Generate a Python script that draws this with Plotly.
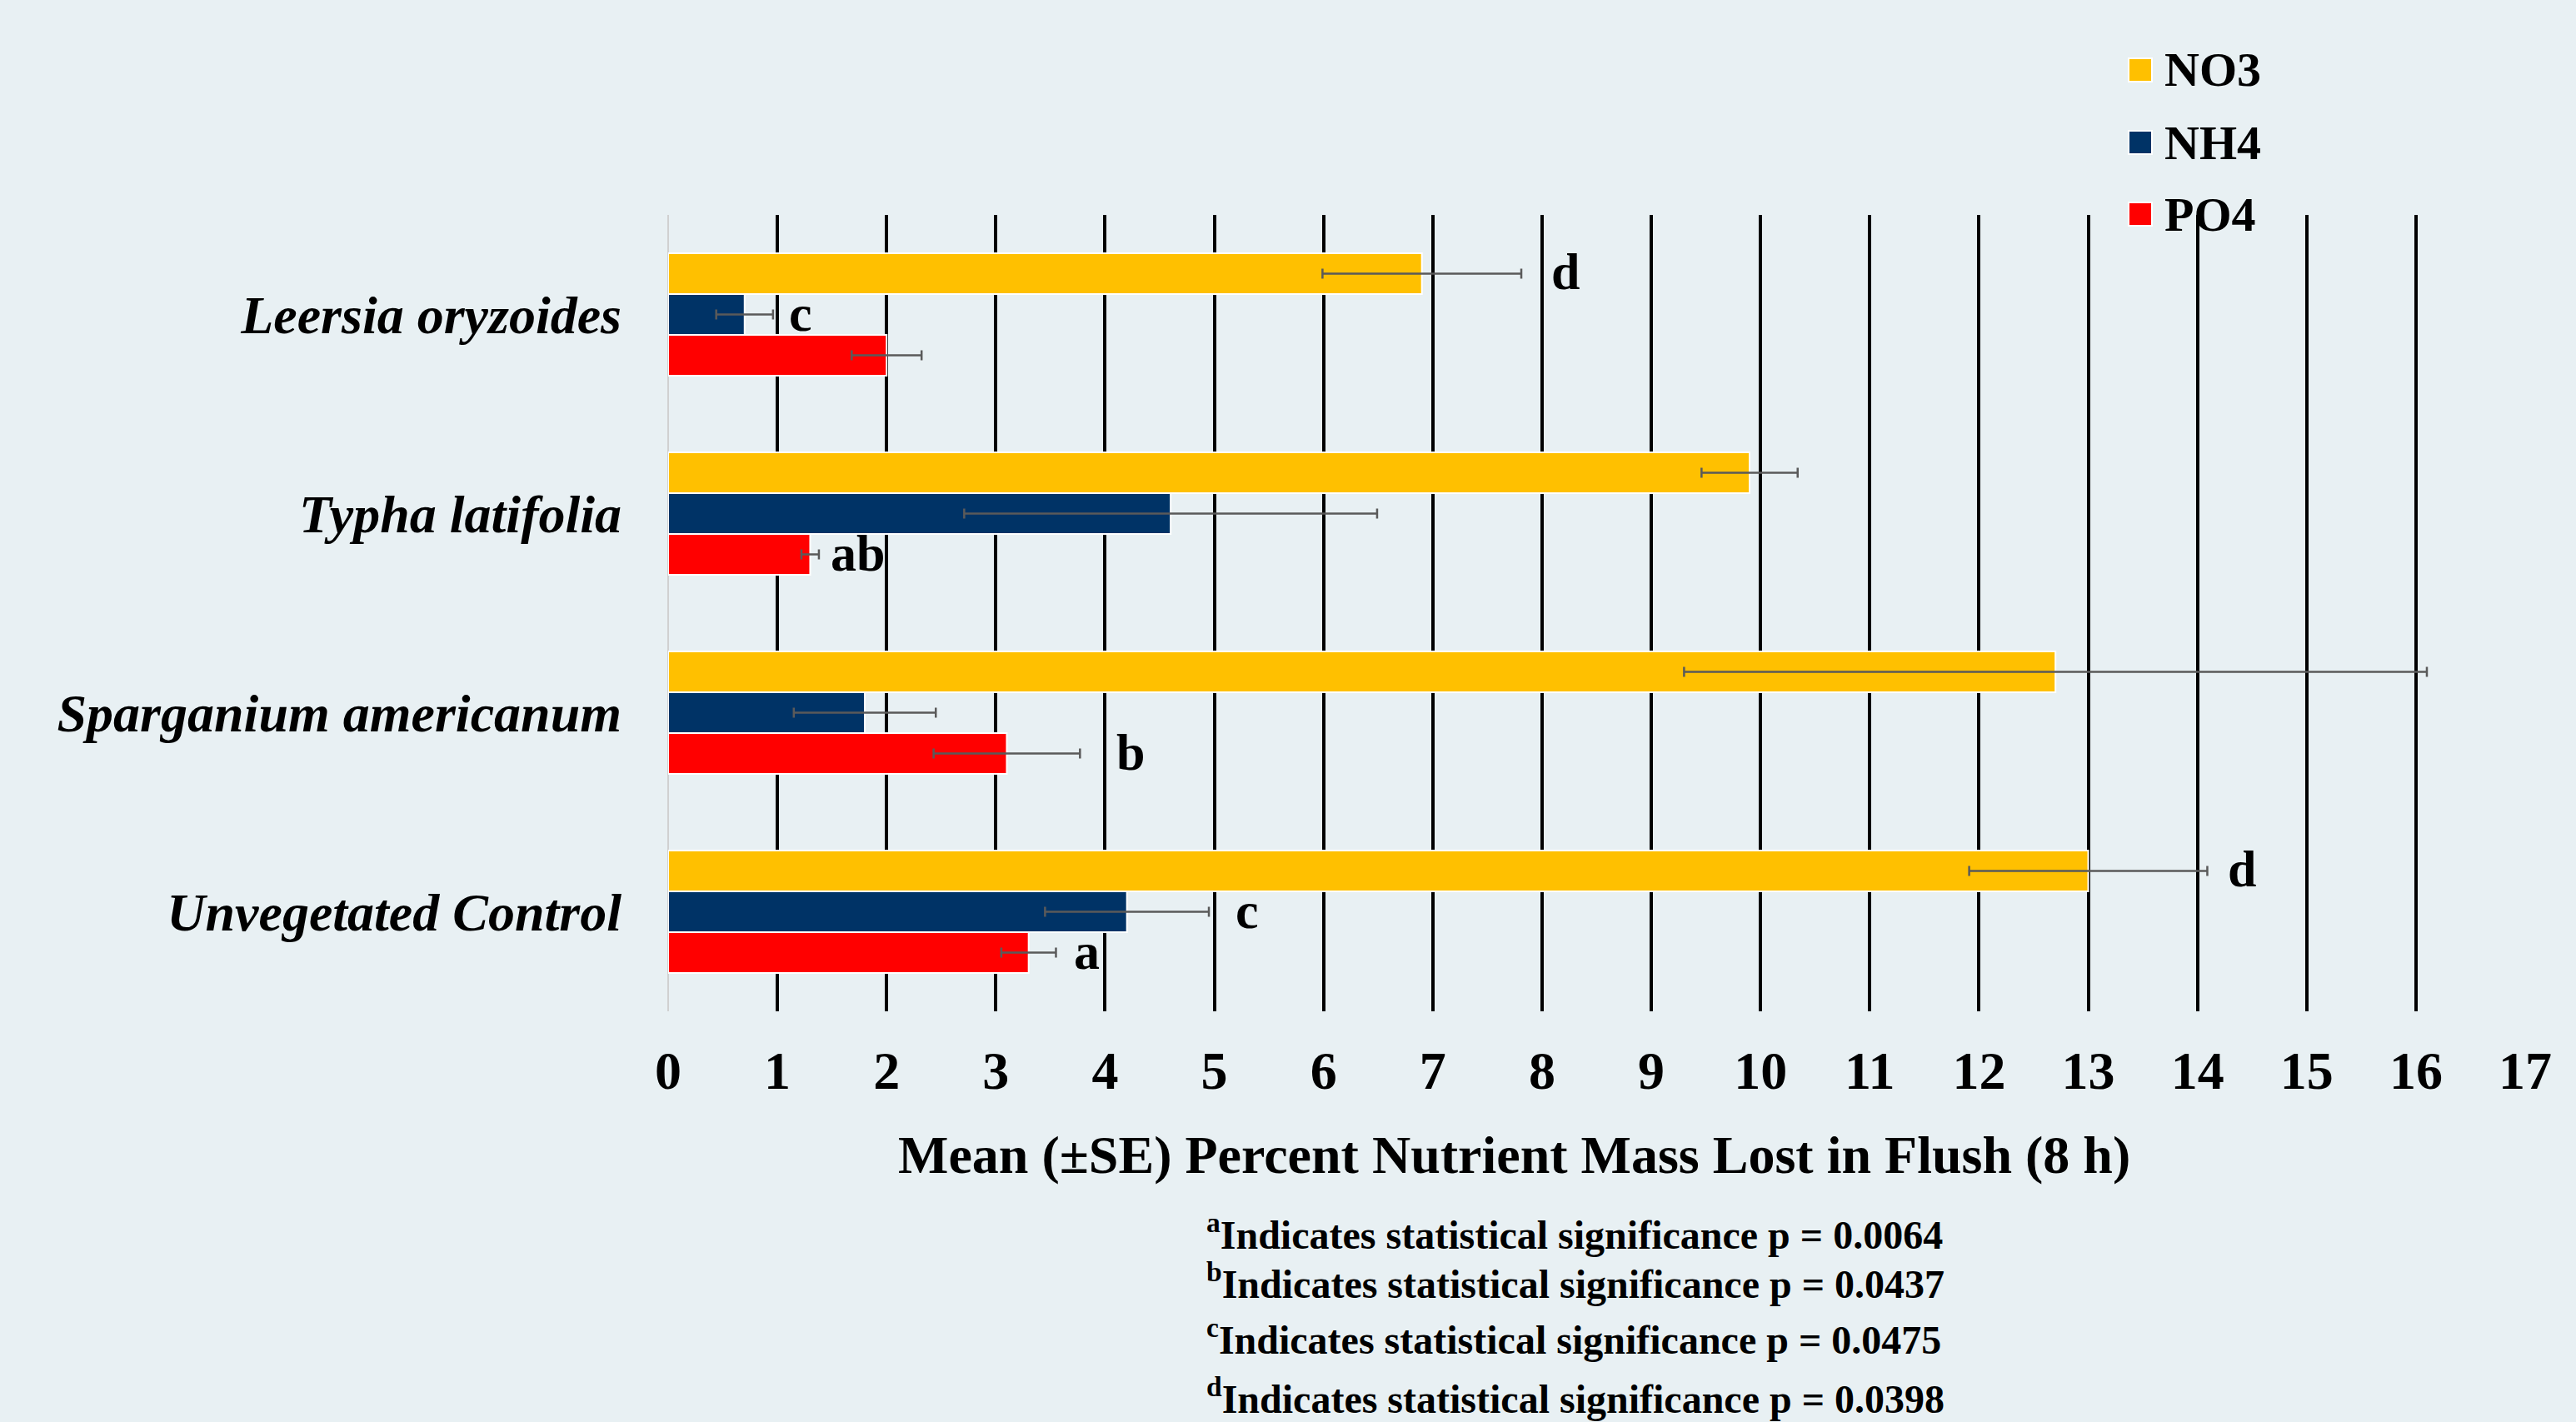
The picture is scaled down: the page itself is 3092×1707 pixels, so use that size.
import plotly.graph_objects as go

# ---- data ----
categories = ["Leersia oryzoides", "Typha latifolia", "Sparganium americanum", "Unvegetated Control"]
series_names = ["NO3", "NH4", "PO4"]
no3_mean = [6.9, 9.9, 12.7, 13.0]
no3_se = [0.91, 0.44, 3.4, 1.09]
nh4_mean = [0.7, 4.6, 1.8, 4.2]
nh4_se = [0.26, 1.89, 0.65, 0.75]
po4_mean = [2.0, 1.3, 3.1, 3.3]
po4_se = [0.32, 0.08, 0.67, 0.25]
# significance letters: (category index, series index, letter)
sig_letters = [(0, 0, "d"), (0, 1, "c"), (1, 2, "ab"), (2, 2, "b"),
               (3, 0, "d"), (3, 1, "c"), (3, 2, "a")]
x_ticks = list(range(0, 18))
footnotes = [("a", "0.0064"), ("b", "0.0437"), ("c", "0.0475"), ("d", "0.0398")]
x_title = "Mean (±SE) Percent Nutrient Mass Lost in Flush (8 h)"

# ---- style ----
colors = ["#FFC000", "#003366", "#FF0000"]
FONT = "Liberation Serif, Times New Roman, serif"
BG = "#E8F0F3"
W, H = 3092, 1707
PL, PR, PT, PB = 802, 3031, 258, 1214  # plot area pixel box
label_gap = {(0, 0): 0.26, (0, 1): 0.13, (1, 2): 0.09, (2, 2): 0.32,
             (3, 0): 0.17, (3, 1): 0.23, (3, 2): 0.15}

def px_x(p):
    return (p - PL) / (PR - PL)

def px_y(p):
    return (PB - p) / (PB - PT)

means = [no3_mean, nh4_mean, po4_mean]
ses = [no3_se, nh4_se, po4_se]

fig = go.Figure()
for name, m, s, c in zip(series_names, means, ses, colors):
    fig.add_trace(go.Bar(
        y=categories, x=m, name=name, orientation="h",
        marker=dict(color=c, line=dict(color="white", width=2)),
        error_x=dict(type="data", array=s, visible=True, color="#5A5A5A",
                     thickness=2.5, width=6),
        showlegend=False,
    ))

bargap = 0.384
bw = (1 - bargap) / 3
offsets = [-bw, 0, bw]
annotations = []
for ci, si, letter in sig_letters:
    xv = means[si][ci] + ses[si][ci] + label_gap[(ci, si)]
    annotations.append(dict(
        x=xv, y=ci + offsets[si], xref="x", yref="y", text=letter,
        showarrow=False, xanchor="left", yanchor="middle", yshift=2,
        font=dict(family=FONT, size=62, color="black", weight="bold"),
    ))

# axis title
annotations.append(dict(
    x=px_x(1817), y=px_y(1386), xref="paper", yref="paper", text=x_title,
    showarrow=False, xanchor="center", yanchor="middle",
    font=dict(family=FONT, size=64, color="black", weight="bold"),
))

# footnotes
foot_y = [1479, 1538, 1605, 1676]
for (sup, p), fy in zip(footnotes, foot_y):
    annotations.append(dict(
        x=px_x(1446), y=px_y(fy), xref="paper", yref="paper",
        text=f"<sup>{sup}</sup>Indicates statistical significance p = {p}",
        showarrow=False, xanchor="left", yanchor="middle",
        font=dict(family=FONT, size=48, color="black", weight="bold"),
    ))

# legend (manual)
shapes = []
leg_y = [84, 171, 257]
for name, c, ly in zip(series_names, colors, leg_y):
    shapes.append(dict(
        type="rect", xref="paper", yref="paper",
        x0=px_x(2555), x1=px_x(2583), y0=px_y(ly + 14), y1=px_y(ly - 14),
        fillcolor=c, line=dict(color="white", width=2), layer="above",
    ))
    annotations.append(dict(
        x=px_x(2596), y=px_y(ly), xref="paper", yref="paper", text=name,
        showarrow=False, xanchor="left", yanchor="middle",
        font=dict(family=FONT, size=58, color="black", weight="bold"),
    ))

fig.update_layout(
    width=W, height=H,
    margin=dict(l=PL, r=W - PR, t=PT, b=H - PB, pad=0),
    paper_bgcolor=BG, plot_bgcolor=BG,
    barmode="group", bargap=bargap, bargroupgap=0,
    annotations=annotations, shapes=shapes,
    showlegend=False,
)
fig.update_xaxes(
    range=[0, 17], tickvals=x_ticks, ticktext=[str(v) for v in x_ticks],
    showgrid=True, gridcolor="black", gridwidth=4,
    zeroline=True, zerolinecolor="#D0D0D0", zerolinewidth=2,
    showline=False, ticks="", ticklabelstandoff=28,
    tickfont=dict(family=FONT, size=64, color="black", weight="bold"),
)
fig.update_yaxes(
    autorange="reversed", showgrid=False, showline=False, ticks="",
    ticklabelstandoff=55,
    tickfont=dict(family=FONT, size=64, color="black", weight="bold", style="italic"),
)

fig.write_html("out.html")
